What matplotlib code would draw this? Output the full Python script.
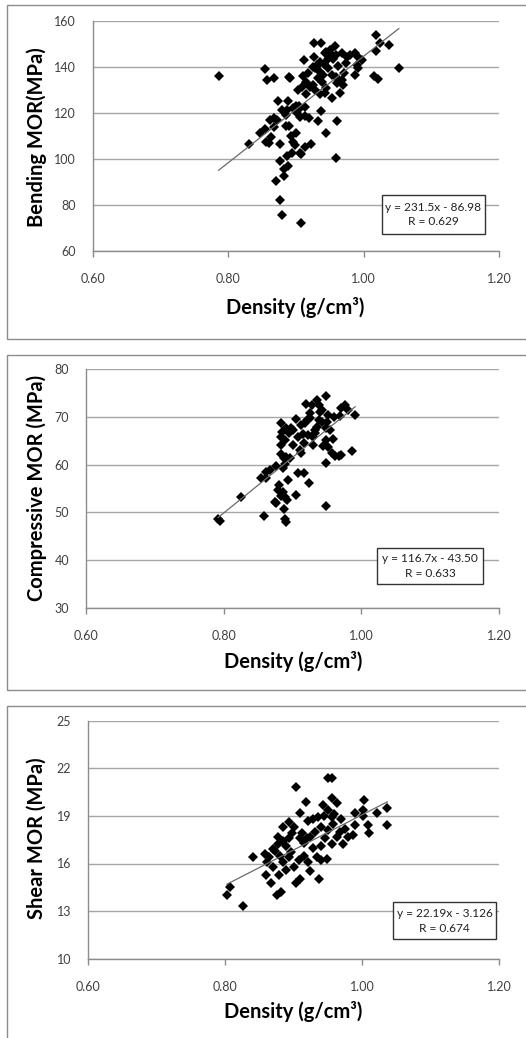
import matplotlib
matplotlib.use("Agg")
import matplotlib.pyplot as plt
from matplotlib.patches import Rectangle
import numpy as np

# ---------------- data ----------------
bend_density = [0.786, 0.855, 0.857, 0.868, 1.018, 1.019, 1.037, 1.025, 1.052, 1.016, 1.021, 0.927, 0.937, 0.912, 0.927,
                0.892, 0.890, 0.873, 0.831, 0.847, 0.855, 0.862, 0.872, 0.867, 0.864, 0.856, 0.861, 0.876, 0.885, 0.890,
                0.889, 0.896, 0.887, 0.901, 0.885, 0.905, 0.913, 0.893, 0.900, 0.896, 0.899, 0.913, 0.920, 0.906, 0.937,
                0.933, 0.944, 0.961, 0.959, 0.923, 0.913, 0.906, 0.895, 0.887, 0.908, 0.876, 0.888, 0.882, 0.882, 0.870,
                0.876, 0.880, 0.908, 0.903, 0.909, 0.921, 0.915, 0.911, 0.918, 0.926, 0.933, 0.928, 0.931, 0.936, 0.941,
                0.943, 0.950, 0.958, 0.953, 0.955, 0.948, 0.953, 0.945, 0.943, 0.954, 0.965, 0.961, 0.968, 0.960, 0.971,
                0.974, 0.975, 0.968, 0.980, 0.987, 0.992, 0.997, 0.987, 0.992, 0.990, 0.959, 0.926, 0.936, 0.938, 0.928,
                0.905, 0.915, 0.935, 0.940, 0.948, 0.962, 0.945, 0.970, 0.935, 0.900, 0.868, 0.880]
bend_mor = [136.0, 139.0, 134.0, 135.0, 153.9, 147.0, 149.6, 150.4, 139.4, 136.0, 134.5, 150.1, 150.4, 142.9, 144.0,
            135.0, 135.6, 124.9, 106.4, 111.0, 112.8, 116.8, 116.8, 113.9, 109.6, 107.4, 106.7, 106.4, 114.2, 114.0,
            125.2, 121.9, 121.2, 119.7, 119.0, 122.9, 122.3, 109.9, 111.3, 107.4, 105.8, 118.6, 117.7, 118.3, 120.7,
            116.5, 111.3, 116.5, 100.4, 106.4, 105.2, 102.6, 102.6, 101.1, 102.0, 99.1, 97.0, 95.4, 92.6, 90.3,
            82.0, 75.4, 72.2, 129.9, 131.0, 131.0, 133.5, 135.9, 137.4, 132.0, 134.9, 139.3, 140.7, 142.2, 141.2,
            145.8, 147.2, 149.0, 145.1, 143.2, 139.3, 136.4, 130.6, 128.7, 126.2, 128.4, 132.8, 134.2, 135.7, 137.1,
            141.4, 144.3, 145.8, 145.1, 145.8, 144.1, 142.9, 136.4, 139.3, 140.7, 145.1, 140.0, 137.8, 133.5, 129.9,
            121.5, 128.0, 128.0, 136.5, 143.5, 140.5, 146.5, 132.0, 141.5, 123.0, 117.5, 121.0]

comp_density = [0.792, 0.795, 0.825, 0.859, 0.854, 0.862, 0.861, 0.867, 0.876, 0.886, 0.889, 0.883, 0.887, 0.891, 0.896,
                0.883, 0.889, 0.883, 0.884, 0.891, 0.895, 0.898, 0.901, 0.901, 0.911, 0.913, 0.916, 0.908, 0.918, 0.913,
                0.921, 0.926, 0.919, 0.928, 0.935, 0.938, 0.948, 0.943, 0.952, 0.950, 0.943, 0.948, 0.955, 0.959, 0.948,
                0.952, 0.957, 0.962, 0.967, 0.949, 0.986, 0.969, 0.971, 0.976, 0.991, 0.933, 0.930, 0.930, 0.935, 0.923,
                0.933, 0.938, 0.908, 0.916, 0.924, 0.894, 0.881, 0.879, 0.886, 0.889, 0.892, 0.905, 0.875, 0.876, 0.887,
                0.889, 0.890, 0.948, 0.884, 0.905, 0.925, 0.940, 0.960, 0.915, 0.885, 0.945, 0.970, 0.980]
comp_mor = [48.6, 48.2, 53.3, 49.2, 57.3, 57.3, 58.4, 58.9, 59.7, 59.2, 60.1, 62.2, 61.3, 61.7, 61.3,
            64.1, 65.2, 65.9, 68.7, 67.6, 66.6, 67.6, 67.3, 64.1, 63.1, 62.4, 64.5, 65.9, 68.7, 68.3,
            69.4, 69.7, 72.7, 72.5, 73.6, 72.5, 74.4, 71.5, 70.4, 69.0, 69.0, 67.6, 67.3, 65.3, 65.2,
            63.8, 62.4, 61.8, 61.8, 60.3, 62.9, 70.2, 71.8, 72.5, 70.4, 67.3, 65.9, 64.1, 68.0, 66.2,
            66.7, 69.4, 58.3, 58.2, 56.2, 56.8, 55.7, 54.7, 54.3, 53.3, 52.6, 53.6, 52.2, 51.9, 50.8,
            48.7, 48.0, 51.4, 53.4, 69.5, 70.8, 71.0, 70.0, 66.5, 66.8, 64.0, 62.0, 71.5]

shear_density = [0.803, 0.808, 0.826, 0.841, 0.859, 0.862, 0.860, 0.867, 0.876, 0.882, 0.865, 0.871, 0.873, 0.878, 0.878,
                 0.885, 0.893, 0.901, 0.879, 0.889, 0.885, 0.894, 0.897, 0.889, 0.894, 0.904, 0.910, 0.918, 0.913, 0.908,
                 0.916, 0.904, 0.909, 0.924, 0.922, 0.929, 0.924, 0.932, 0.922, 0.936, 0.943, 0.941, 0.938, 0.934, 0.941,
                 0.949, 0.941, 0.946, 0.951, 0.951, 0.956, 0.957, 0.963, 0.956, 0.958, 0.956, 0.963, 0.970, 0.973, 0.968,
                 0.980, 0.987, 0.990, 0.990, 1.002, 1.002, 1.003, 1.009, 1.010, 1.022, 1.036, 1.037, 0.975, 0.951, 0.901,
                 0.916, 0.910, 0.929, 0.870, 0.880, 0.898, 0.920, 0.945, 0.960, 0.885]
shear_mor = [14.0, 14.5, 13.3, 16.4, 16.6, 16.1, 15.3, 14.8, 14.0, 14.2, 16.4, 15.8, 16.8, 17.2, 17.7,
             18.3, 18.6, 18.3, 15.3, 15.6, 16.1, 16.4, 16.7, 17.1, 17.6, 20.8, 19.2, 19.9, 17.9, 16.2,
             16.5, 14.8, 15.0, 15.5, 16.1, 17.0, 17.7, 18.0, 18.7, 18.9, 19.7, 18.3, 15.0, 16.4, 16.2,
             16.3, 17.1, 17.6, 18.1, 21.4, 21.4, 20.1, 19.8, 18.9, 18.5, 17.2, 17.7, 18.8, 17.2, 18.0,
             17.7, 17.8, 18.4, 19.2, 19.0, 19.4, 20.0, 18.4, 17.9, 19.2, 19.5, 18.4, 18.2, 19.4, 15.8,
             17.3, 17.6, 18.8, 16.9, 16.5, 17.9, 17.6, 19.0, 19.1, 17.4]

ylabels = ["Bending MOR(MPa)", "Compressive MOR (MPa)", "Shear MOR (MPa)"]
xlabel = "Density (g/cm\u00b3)"
xticks = [0.60, 0.80, 1.00, 1.20]
yticks_list = [[60, 80, 100, 120, 140, 160], [30, 40, 50, 60, 70, 80], [10, 13, 16, 19, 22, 25]]
slopes = [231.5, 116.7, 22.19]
intercepts = [-86.98, -43.50, -3.126]
eq_texts = ["y = 231.5x - 86.98\nR = 0.629", "y = 116.7x - 43.50\nR = 0.633", "y = 22.19x - 3.126\nR = 0.674"]

# ---------------- layout ----------------
W, H = 526, 1038
fig = plt.figure(figsize=(W / 100, H / 100), dpi=100)
FONT = ["Lato", "DejaVu Sans"]


def fx(x):
    return x / W


def fy(y):
    return 1 - y / H


# panel frames (pixel: left, top, right, bottom)
frames = [(6.5, 4.5, 530, 339), (6.5, 355, 530, 690), (6.5, 706, 530, 1045)]
for (l, t, r, b) in frames:
    fig.patches.append(Rectangle((fx(l), fy(b)), fx(r - l), (b - t) / H, transform=fig.transFigure,
                                 fill=False, edgecolor="#8c8c8c", linewidth=1.0))

# axes rectangles (pixel: left, top, right, bottom)
axes_px = [(92.7, 20.7, 499, 250.7), (86, 369.3, 499, 607.7), (87.7, 720.7, 499, 958.7)]
boxes = [(0.711, 0.073, 0.966, 0.242), (0.704, 0.098, 0.962, 0.252), (0.742, 0.0815, 0.993, 0.237)]
ylabel_pos = [(37, 136.7), (37, 488.3), (37, 838)]
xlabel_pos = [(295, 308), (293, 661), (293, 1012)]

datasets = [(bend_density, bend_mor), (comp_density, comp_mor), (shear_density, shear_mor)]

for i in range(3):
    l, t, r, b = axes_px[i]
    ax = fig.add_axes([fx(l), fy(b), (r - l) / W, (b - t) / H])
    xs, ys = datasets[i]
    yt = yticks_list[i]
    ax.set_xlim(0.6, 1.2)
    ax.set_ylim(yt[0], yt[-1])
    ax.set_xticks(xticks)
    ax.set_xticklabels([f"{v:.2f}" for v in xticks])
    ax.set_yticks(yt)
    ax.set_yticklabels([str(v) for v in yt])
    for s in ["top", "right"]:
        ax.spines[s].set_visible(False)
    for s in ["left", "bottom"]:
        ax.spines[s].set_color("#8c8c8c")
        ax.spines[s].set_linewidth(1.0)
    ax.grid(axis="y", color="#a6a6a6", linewidth=1.0)
    ax.set_axisbelow(True)
    ax.tick_params(axis="x", direction="out", length=4, width=1, color="#8c8c8c", pad=12,
                   labelsize=9, labelcolor="#404040")
    ax.tick_params(axis="y", direction="out", length=0, pad=12, labelsize=9, labelcolor="#404040")
    for lab in ax.get_xticklabels() + ax.get_yticklabels():
        lab.set_family(FONT)

    ax.plot(xs, ys, linestyle="none", marker="D", markersize=5.4, color="black",
            markeredgewidth=0, zorder=3, clip_on=False)
    xr = np.array([min(xs), max(xs)])
    ax.plot(xr, slopes[i] * xr + intercepts[i], color="#6a6a6a", linewidth=0.9, zorder=4)

    bx0, by0, bx1, by1 = boxes[i]
    ax.add_patch(Rectangle((bx0, by0), bx1 - bx0, by1 - by0, transform=ax.transAxes,
                           facecolor="white", edgecolor="#333333", linewidth=1.0, zorder=5))
    ax.text((bx0 + bx1) / 2, (by0 + by1) / 2, eq_texts[i], transform=ax.transAxes, ha="center",
            va="center", fontsize=8.6, family=FONT, color="#222222", linespacing=1.4, zorder=6)

    fig.text(fx(ylabel_pos[i][0]), fy(ylabel_pos[i][1]), ylabels[i], rotation=90, ha="center",
             va="center", fontsize=14.5, fontweight="bold", family=FONT)
    fig.text(fx(xlabel_pos[i][0]), fy(xlabel_pos[i][1]), xlabel, ha="center", va="center",
             fontsize=14.5, fontweight="bold", family=FONT)

fig.savefig("out.png", dpi=100)
